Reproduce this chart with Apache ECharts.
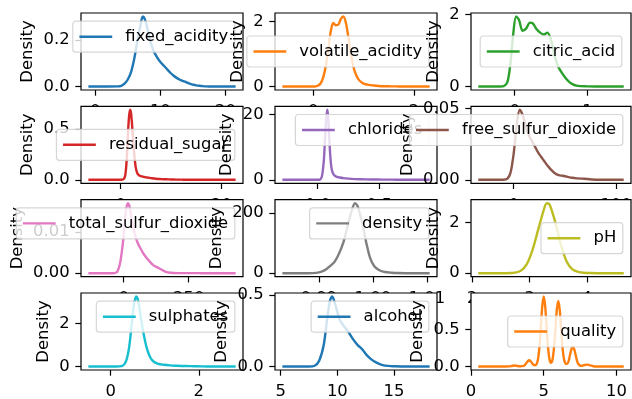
<!DOCTYPE html>
<html><head><meta charset="utf-8">
<script src="https://cdn.jsdelivr.net/npm/echarts@6/dist/echarts.min.js"></script>
<style>html,body{margin:0;padding:0;background:#fff}#c{width:632px;height:399px}</style>
</head><body><div id="c"></div>
<script>
// ---------- data ----------
const fixedAcidityX = [-1.05, 2, 3.5, 4, 4.5, 5, 5.5, 6, 6.5, 7, 7.3, 7.6, 8, 8.5, 9, 9.5, 10, 10.5, 11, 11.5, 12, 12.5, 13, 13.5, 14, 14.5, 15, 15.5, 16, 16.5, 17, 17.5, 21.55];
const fixedAcidityY = [0, 0, 0.0005, 0.003, 0.012, 0.03, 0.062, 0.12, 0.2, 0.27, 0.30, 0.29, 0.25, 0.19, 0.15, 0.125, 0.105, 0.09, 0.075, 0.06, 0.047, 0.037, 0.029, 0.023, 0.018, 0.012, 0.008, 0.005, 0.003, 0.0015, 0.0005, 0, 0];
const fixedAcidityXTicks = ['0', '10', '20'];
const fixedAcidityYTicks = ['0.0', '0.2'];

const volatileAcidityX = [-0.61, 0, 0.05, 0.1, 0.15, 0.2, 0.25, 0.3, 0.35, 0.4, 0.45, 0.5, 0.55, 0.6, 0.65, 0.7, 0.75, 0.8, 0.85, 0.9, 0.95, 1.0, 1.1, 1.2, 1.3, 1.4, 1.5, 1.6, 1.7, 1.8, 2.31];
const volatileAcidityY = [0, 0, 0.005, 0.03, 0.1, 0.28, 0.62, 1.15, 1.7, 1.95, 1.88, 1.9, 2.08, 2.15, 1.95, 1.5, 1.0, 0.6, 0.36, 0.22, 0.14, 0.09, 0.05, 0.03, 0.015, 0.008, 0.006, 0.004, 0.002, 0, 0];
const volatileAcidityXTicks = ['0', '2'];
const volatileAcidityYTicks = ['0', '2'];

const citricAcidX = [-0.5, -0.2, -0.15, -0.1, -0.06, -0.02, 0.02, 0.06, 0.11, 0.16, 0.21, 0.25, 0.3, 0.35, 0.4, 0.45, 0.5, 0.55, 0.6, 0.65, 0.7, 0.75, 0.8, 0.85, 0.9, 1.0, 1.1, 1.5];
const citricAcidY = [0, 0, 0.01, 0.12, 0.6, 1.45, 1.95, 1.85, 1.55, 1.62, 1.78, 1.76, 1.6, 1.5, 1.45, 1.5, 1.3, 0.85, 0.55, 0.38, 0.24, 0.13, 0.06, 0.025, 0.01, 0.004, 0, 0];
const citricAcidXTicks = ['0', '1'];
const citricAcidYTicks = ['0', '2'];

const residualSugarX = [-6.4, 0, 0.5, 0.9, 1.2, 1.5, 1.7, 1.9, 2.1, 2.4, 2.7, 3.0, 3.3, 3.7, 4.2, 4.8, 5.5, 6.2, 7, 8, 9, 10, 11, 12, 13, 14, 15, 15.5, 16.5, 17.5, 22.8];
const residualSugarY = [0, 0, 0.004, 0.04, 0.2, 0.5, 0.64, 0.69, 0.64, 0.45, 0.25, 0.12, 0.065, 0.042, 0.033, 0.027, 0.021, 0.015, 0.01, 0.007, 0.005, 0.003, 0.002, 0.0015, 0.001, 0.001, 0.0012, 0.001, 0.0003, 0, 0];
const residualSugarXTicks = ['0', '20'];
const residualSugarYTicks = ['0.0', '0.5'];

const chloridesX = [-0.2875, 0, 0.02, 0.035, 0.05, 0.06, 0.07, 0.078, 0.086, 0.095, 0.105, 0.115, 0.13, 0.15, 0.18, 0.21, 0.25, 0.3, 0.35, 0.4, 0.45, 0.5, 0.55, 0.61, 0.66, 0.72, 0.9105];
const chloridesY = [0, 0, 0.1, 1.2, 6, 13, 19, 21.5, 19, 12, 6, 3, 1.6, 1.0, 0.7, 0.5, 0.35, 0.22, 0.15, 0.12, 0.1, 0.07, 0.04, 0.04, 0.015, 0, 0];
const chloridesXTicks = ['0.0', '0.5'];
const chloridesYTicks = ['0', '20'];

const freeSulfurX = [-34.5, -10, -6, -3, 0, 3, 6, 9, 12, 15, 18, 21, 24, 27, 30, 33, 36, 40, 44, 48, 52, 57, 62, 67, 72, 77, 82, 107.5];
const freeSulfurY = [0, 0, 0.0008, 0.005, 0.018, 0.038, 0.049, 0.045, 0.037, 0.031, 0.027, 0.023, 0.019, 0.016, 0.013, 0.01, 0.0075, 0.0048, 0.0032, 0.0028, 0.0022, 0.0014, 0.001, 0.0008, 0.0006, 0.0002, 0, 0];
const freeSulfurXTicks = ['0', '100'];
const freeSulfurYTicks = ['0.00', '0.05'];

const totalSulfurX = [-135.5, -40, -25, -12, 0, 8, 16, 22, 30, 38, 46, 55, 65, 75, 85, 95, 105, 115, 130, 145, 160, 180, 210, 250, 290, 310, 430.5];
const totalSulfurY = [0, 0, 0.0003, 0.003, 0.009, 0.0148, 0.017, 0.0163, 0.0135, 0.0108, 0.0088, 0.0072, 0.006, 0.0049, 0.004, 0.0032, 0.0025, 0.0019, 0.0014, 0.0009, 0.0004, 0.00012, 0.00003, 0.00002, 0.00001, 0, 0];
const totalSulfurXTicks = ['0', '250'];
const totalSulfurYTicks = ['0.00', '0.01'];

const densityX = [0.98326, 0.988, 0.9895, 0.9905, 0.9915, 0.993, 0.9945, 0.9955, 0.9962, 0.9967, 0.9972, 0.998, 0.9988, 0.9995, 1.0003, 1.0012, 1.0022, 1.0035, 1.0045, 1.006, 1.0105];
const densityY = [0, 0, 1, 5, 15, 40, 100, 170, 215, 233, 222, 170, 100, 50, 22, 10, 4, 1.5, 0.5, 0, 0];
const densityXTicks = ['0.99', '1.00', '1.01'];
const densityYTicks = ['0', '200'];

const pHX = [2.105, 2.6, 2.75, 2.85, 2.95, 3.05, 3.15, 3.25, 3.3, 3.35, 3.45, 3.55, 3.65, 3.75, 3.85, 3.95, 4.05, 4.2, 4.645];
const pHY = [0, 0, 0.02, 0.1, 0.35, 0.9, 1.7, 2.5, 2.75, 2.7, 2.0, 1.1, 0.45, 0.15, 0.05, 0.015, 0.005, 0, 0];
const pHXTicks = ['2', '3', '4'];
const pHYTicks = ['0', '2'];

const sulphatesX = [-0.505, 0.1, 0.25, 0.35, 0.42, 0.48, 0.53, 0.58, 0.63, 0.69, 0.75, 0.82, 0.9, 0.98, 1.08, 1.2, 1.35, 1.5, 1.7, 1.9, 2.05, 2.2, 2.835];
const sulphatesY = [0, 0, 0.02, 0.25, 0.9, 2.0, 2.9, 3.25, 3.0, 2.2, 1.5, 0.85, 0.42, 0.22, 0.12, 0.08, 0.05, 0.035, 0.02, 0.015, 0.006, 0, 0];
const sulphatesXTicks = ['0', '2'];
const sulphatesYTicks = ['0', '2'];

const alcoholX = [5.15, 7.5, 8.0, 8.4, 8.8, 9.1, 9.35, 9.55, 9.8, 10.2, 10.6, 11.0, 11.4, 11.8, 12.2, 12.6, 13.0, 13.5, 14.0, 14.5, 15.0, 16, 18.15];
const alcoholY = [0, 0, 0.005, 0.04, 0.15, 0.33, 0.46, 0.49, 0.44, 0.33, 0.28, 0.24, 0.19, 0.15, 0.12, 0.08, 0.05, 0.025, 0.01, 0.004, 0.002, 0, 0];
const alcoholXTicks = ['5', '10', '15'];
const alcoholYTicks = ['0.0', '0.5'];

const qualityX = [0.5, 2.4, 2.6, 2.8, 3.0, 3.2, 3.4, 3.6, 3.7, 3.8, 3.9, 4.0, 4.1, 4.2, 4.3, 4.4, 4.5, 4.6, 4.7, 4.8, 4.9, 5.0, 5.1, 5.2, 5.3, 5.4, 5.5, 5.6, 5.7, 5.8, 5.9, 6.0, 6.1, 6.2, 6.3, 6.4, 6.5, 6.6, 6.7, 6.8, 6.9, 7.0, 7.1, 7.2, 7.3, 7.4, 7.5, 7.6, 7.8, 8.0, 8.2, 8.4, 8.6, 10.5];
const qualityY = [0, 0, 0.001, 0.007, 0.014, 0.007, 0.003, 0.008, 0.02, 0.045, 0.07, 0.085, 0.07, 0.045, 0.024, 0.016, 0.03, 0.09, 0.25, 0.52, 0.81, 0.94, 0.81, 0.52, 0.25, 0.095, 0.05, 0.09, 0.24, 0.49, 0.76, 0.88, 0.76, 0.49, 0.24, 0.09, 0.04, 0.035, 0.065, 0.15, 0.23, 0.27, 0.23, 0.15, 0.07, 0.03, 0.012, 0.009, 0.02, 0.025, 0.015, 0.004, 0.0005, 0];
const qualityXTicks = ['0', '5', '10'];
const qualityYTicks = ['0.0', '0.5'];

// ---------- panels ----------
const panels = [
  {name: 'fixed_acidity', x: fixedAcidityX, y: fixedAcidityY, xt: fixedAcidityXTicks, yt: fixedAcidityYTicks, color: '#1f77b4', loc: 'upper right'},
  {name: 'volatile_acidity', x: volatileAcidityX, y: volatileAcidityY, xt: volatileAcidityXTicks, yt: volatileAcidityYTicks, color: '#ff7f0e', loc: 'center right'},
  {name: 'citric_acid', x: citricAcidX, y: citricAcidY, xt: citricAcidXTicks, yt: citricAcidYTicks, color: '#2ca02c', loc: 'center'},
  {name: 'residual_sugar', x: residualSugarX, y: residualSugarY, xt: residualSugarXTicks, yt: residualSugarYTicks, color: '#d62728', loc: 'center right'},
  {name: 'chlorides', x: chloridesX, y: chloridesY, xt: chloridesXTicks, yt: chloridesYTicks, color: '#9467bd', loc: 'upper right'},
  {name: 'free_sulfur_dioxide', x: freeSulfurX, y: freeSulfurY, xt: freeSulfurXTicks, yt: freeSulfurYTicks, color: '#8c564b', loc: 'upper right'},
  {name: 'total_sulfur_dioxide', x: totalSulfurX, y: totalSulfurY, xt: totalSulfurXTicks, yt: totalSulfurYTicks, color: '#e377c2', loc: 'upper right'},
  {name: 'density', x: densityX, y: densityY, xt: densityXTicks, yt: densityYTicks, color: '#7f7f7f', loc: 'upper right'},
  {name: 'pH', x: pHX, y: pHY, xt: pHXTicks, yt: pHYTicks, color: '#bcbd22', loc: 'center right'},
  {name: 'sulphates', x: sulphatesX, y: sulphatesY, xt: sulphatesXTicks, yt: sulphatesYTicks, color: '#17becf', loc: 'upper right'},
  {name: 'alcohol', x: alcoholX, y: alcoholY, xt: alcoholXTicks, yt: alcoholYTicks, color: '#1f77b4', loc: 'upper right'},
  {name: 'quality', x: qualityX, y: qualityY, xt: qualityXTicks, yt: qualityYTicks, color: '#ff7f0e', loc: 'center right'}
];

// ---------- layout / style ----------
const W = 632;
const FONT = 'DejaVu Sans';
const FS = 16.4;
const colLeft = [81, 275, 471];
const colWidth = [162, 162, 160];
const rowTop = [13, 106.3, 199.7, 293];
const rowH = 77;

const cv = document.createElement('canvas').getContext('2d');
cv.font = FS + 'px "' + FONT + '"';
const measure = s => cv.measureText(s).width;

function labeler(labels) {
  const vals = labels.map(Number);
  return v => {
    for (let k = 0; k < vals.length; k++) {
      if (Math.abs(vals[k] - v) <= 1e-7 * Math.max(1, Math.abs(v))) return labels[k];
    }
    return '';
  };
}
function padRange(arr) {
  const lo = Math.min(...arr), hi = Math.max(...arr);
  const p = 0.05 * (hi - lo);
  return [lo - p, hi + p];
}

const grids = [], xAxes = [], yAxes = [], series = [], legends = [];
panels.forEach((p, i) => {
  const r = Math.floor(i / 3), c = i % 3;
  const L = colLeft[c], T = rowTop[r], Wd = colWidth[c], H = rowH;
  const zb = 10 * i;
  grids.push({left: L, top: T, width: Wd, height: H, show: true, backgroundColor: '#fff',
    borderColor: '#000', borderWidth: 1.2, z: zb, containLabel: false, outerBoundsMode: 'none'});
  const xr = padRange(p.x), yr = padRange(p.y);
  const xv = p.xt.map(Number), yv = p.yt.map(Number);
  const labelW = Math.max(...p.yt.map(measure));
  xAxes.push({type: 'value', gridIndex: i, position: 'bottom', min: xr[0], max: xr[1], z: zb + 1,
    axisLine: {show: false, onZero: false}, splitLine: {show: false}, minorTick: {show: false},
    axisTick: {show: true, inside: false, length: 5.7, lineStyle: {color: '#000', width: 1.2}, customValues: xv},
    axisLabel: {show: true, customValues: xv, formatter: labeler(p.xt), margin: 14, fontSize: FS,
      fontFamily: FONT, color: '#000'}});
  yAxes.push({type: 'value', gridIndex: i, position: 'left', min: yr[0], max: yr[1], z: zb + 1,
    axisLine: {show: false, onZero: false}, splitLine: {show: false}, minorTick: {show: false},
    name: 'Density', nameLocation: 'middle', nameGap: labelW + 19,
    nameTextStyle: {fontSize: FS, fontFamily: FONT, color: '#000'},
    axisTick: {show: true, inside: false, length: 5.7, lineStyle: {color: '#000', width: 1.2}, customValues: yv},
    axisLabel: {show: true, customValues: yv, formatter: labeler(p.yt), margin: 11.4, fontSize: FS,
      fontFamily: FONT, color: '#000'}});
  series.push({type: 'line', name: p.name, xAxisIndex: i, yAxisIndex: i,
    data: p.x.map((v, k) => [v, p.y[k]]), showSymbol: false, symbol: 'none', smooth: 0.3,
    lineStyle: {width: 2.4, color: p.color}, itemStyle: {color: p.color}, z: zb + 2, silent: true});
  const boxW = 6.6 + 32.8 + 5 + 8.1 + measure(p.name) + 6.6;
  const boxH = 31;
  const lg = {data: [p.name], z: zb + 5, icon: 'path://M0,0H32V2.4H0Z', symbolKeepAspect: false,
    itemWidth: 32.8, itemHeight: 2.4,
    orient: 'horizontal', selectedMode: false,
    padding: [6.5, 6.6, 6.5, 6.6], backgroundColor: 'rgba(255,255,255,0.8)',
    borderColor: 'rgba(204,204,204,0.8)', borderWidth: 1.2, borderRadius: 3,
    itemStyle: {borderWidth: 0, color: p.color},
    textStyle: {fontSize: FS, fontFamily: FONT, color: '#000', lineHeight: 18, padding: [0, 0, 0, 8.1]}};
  if (p.loc === 'upper right') { lg.right = W - (L + Wd - 8.2); lg.top = T + 8.2; }
  else if (p.loc === 'center right') { lg.right = W - (L + Wd - 8.2); lg.top = T + H / 2 - boxH / 2; }
  else { lg.left = L + Wd / 2 - boxW / 2; lg.top = T + H / 2 - boxH / 2; }
  legends.push(lg);
});

const chart = echarts.init(document.getElementById('c'), null, {renderer: 'canvas', width: 632, height: 399});
chart.setOption({
  animation: false,
  backgroundColor: '#fff',
  textStyle: {fontFamily: FONT},
  grid: grids, xAxis: xAxes, yAxis: yAxes, series: series, legend: legends
});
</script></body></html>
